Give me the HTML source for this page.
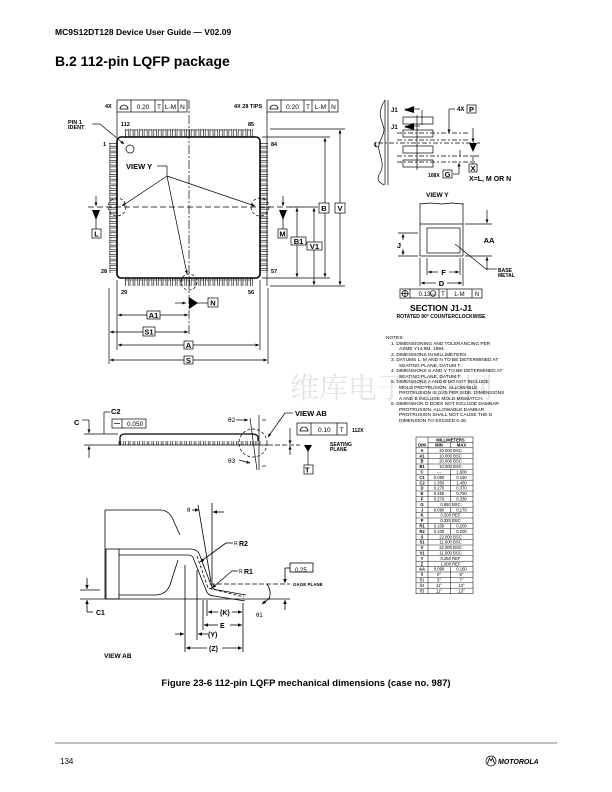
<!DOCTYPE html>
<html><head><meta charset="utf-8"><style>
html,body{margin:0;padding:0;background:#fff}
svg{display:block}
text{font-family:"Liberation Sans",Arial,sans-serif;fill:#000}
.b{font-weight:bold}
</style></head><body>
<svg width="612" height="792" viewBox="0 0 612 792" xmlns="http://www.w3.org/2000/svg">
<defs>
<marker id="a" markerWidth="6" markerHeight="6" refX="5" refY="3" orient="auto"><path d="M0,0.8 L5,3 L0,5.2z" fill="#000"/></marker>
<pattern id="tp" x="125" y="0" width="4.7" height="10" patternUnits="userSpaceOnUse"><rect x="0.4" y="0" width="3" height="10" fill="#fff" stroke="#000" stroke-width="0.6"/></pattern>
<pattern id="lp" x="0" y="143" width="10" height="4.7" patternUnits="userSpaceOnUse"><rect x="0" y="0.4" width="10" height="3" fill="#fff" stroke="#000" stroke-width="0.6"/></pattern>
</defs>
<text x="55" y="35" class="b" font-size="8.5">MC9S12DT128 Device User Guide — V02.09</text>
<text x="55" y="66" class="b" font-size="14">B.2  112-pin LQFP package</text>

<text x="290" y="398" font-size="29" style="fill:#e4e4e4;font-family:'Noto Serif CJK SC',serif">维库电子市场网</text>

<g stroke="#000" fill="none" stroke-width="0.7">
<rect x="125" y="129" width="128" height="8" fill="url(#tp)" stroke="none"/>
<rect x="125" y="278" width="128" height="8" fill="url(#tp)" stroke="none"/>
<rect x="109" y="143" width="8" height="130" fill="url(#lp)" stroke="none"/>
<rect x="260" y="143" width="8" height="130" fill="url(#lp)" stroke="none"/>
<rect x="117" y="137" width="143" height="141" rx="4" stroke-width="1.6" fill="#fff"/>
<circle cx="130" cy="149" r="4"/>
<line x1="189" y1="100" x2="189" y2="336" stroke-dasharray="9,2,2,2"/>
<line x1="88" y1="207" x2="298" y2="207" stroke-dasharray="6,3"/>
<rect x="117" y="100" width="70" height="12"/><line x1="131" y1="100" x2="131" y2="112"/><line x1="155" y1="100" x2="155" y2="112"/><line x1="163" y1="100" x2="163" y2="112"/><line x1="178" y1="100" x2="178" y2="112"/>
<rect x="267" y="100" width="71" height="12"/><line x1="281" y1="100" x2="281" y2="112"/><line x1="304" y1="100" x2="304" y2="112"/><line x1="312" y1="100" x2="312" y2="112"/><line x1="329" y1="100" x2="329" y2="112"/>
<line x1="117" y1="112" x2="117" y2="137"/><line x1="267" y1="112" x2="267" y2="286"/>
<line x1="92" y1="124" x2="100" y2="124"/><line x1="100" y1="124" x2="124" y2="144" marker-end="url(#a)"/>
<line x1="157" y1="166" x2="167" y2="166"/>
<line x1="167" y1="176" x2="122" y2="206" marker-end="url(#a)"/>
<line x1="167" y1="176" x2="255" y2="206" marker-end="url(#a)"/>
<line x1="167" y1="176" x2="187" y2="274" marker-end="url(#a)"/>
<line x1="167" y1="166" x2="167" y2="176"/>
<line x1="262" y1="137" x2="330" y2="137"/><line x1="262" y1="278" x2="330" y2="278"/>
<line x1="270" y1="129" x2="345" y2="129"/><line x1="270" y1="286" x2="345" y2="286"/>
<line x1="290" y1="207" x2="318" y2="207"/>
<line x1="325" y1="203" x2="325" y2="138" marker-end="url(#a)"/><line x1="325" y1="213" x2="325" y2="277" marker-end="url(#a)"/>
<line x1="340" y1="203" x2="340" y2="130" marker-end="url(#a)"/><line x1="340" y1="213" x2="340" y2="285" marker-end="url(#a)"/>
<line x1="297" y1="237" x2="297" y2="208" marker-end="url(#a)"/><line x1="297" y1="245" x2="297" y2="277" marker-end="url(#a)"/>
<line x1="314" y1="242" x2="314" y2="208" marker-end="url(#a)"/><line x1="314" y1="250" x2="314" y2="285" marker-end="url(#a)"/>
<rect x="319" y="203" width="10" height="10" fill="#fff"/><rect x="335" y="203" width="10" height="10" fill="#fff"/>
<rect x="291" y="237" width="15" height="8" fill="#fff"/><rect x="307" y="242" width="15" height="8" fill="#fff"/>
<line x1="96" y1="196" x2="96" y2="206" marker-end="url(#a)"/><line x1="96" y1="210" x2="96" y2="229"/>
<line x1="283" y1="196" x2="283" y2="206" marker-end="url(#a)"/><line x1="283" y1="210" x2="283" y2="229"/>
<rect x="92" y="229" width="9" height="9"/><rect x="278" y="229" width="9" height="9"/>
<line x1="175" y1="303" x2="186" y2="303" marker-end="url(#a)"/><line x1="196" y1="303" x2="208" y2="303"/>
<rect x="208" y="298" width="10" height="9"/>
<line x1="117" y1="280" x2="117" y2="350"/><line x1="260" y1="280" x2="260" y2="350"/>
<line x1="109" y1="288" x2="109" y2="364"/><line x1="268" y1="288" x2="268" y2="364"/>
<line x1="147" y1="315" x2="118" y2="315" marker-end="url(#a)"/><line x1="160" y1="315" x2="188" y2="315" marker-end="url(#a)"/>
<line x1="143" y1="332" x2="110" y2="332" marker-end="url(#a)"/><line x1="155" y1="332" x2="188" y2="332" marker-end="url(#a)"/>
<line x1="184" y1="345" x2="118" y2="345" marker-end="url(#a)"/><line x1="193" y1="345" x2="259" y2="345" marker-end="url(#a)"/>
<line x1="184" y1="360" x2="110" y2="360" marker-end="url(#a)"/><line x1="193" y1="360" x2="267" y2="360" marker-end="url(#a)"/>
<rect x="147" y="311" width="13" height="8"/><rect x="143" y="327" width="12" height="9"/><rect x="184" y="341" width="9" height="8"/><rect x="184" y="356" width="9" height="8"/>
<circle cx="117" cy="207" r="9" stroke-dasharray="3,2"/><circle cx="260" cy="207" r="9" stroke-dasharray="3,2"/><circle cx="189" cy="282" r="8" stroke-dasharray="3,2"/>
</g>
<polygon points="92,210 100,210 96,220" fill="#000"/><polygon points="279,210 287,210 283,220" fill="#000"/>
<polygon points="189,297 189,309 198,303" fill="#000"/>
<g font-size="5.5" class="b">
<text x="105" y="108">4X</text><text x="234" y="108">4X 28 TIPS</text>
<text x="68" y="124">PIN 1</text><text x="68" y="129">IDENT</text>
<text x="121" y="126">112</text><text x="248" y="126">85</text><text x="103" y="146">1</text><text x="271" y="146">84</text>
<text x="101" y="273">28</text><text x="271" y="273">57</text><text x="121" y="294">29</text><text x="248" y="294">56</text>
</g>
<g font-size="7.5" class="b"><text x="126" y="169">VIEW Y</text></g>
<g font-size="6.5" text-anchor="middle">
<text x="143" y="109">0.20</text><text x="159" y="109">T</text><text x="170.5" y="109">L-M</text><text x="182.5" y="109">N</text>
<text x="292.5" y="109">0.20</text><text x="308" y="109">T</text><text x="320.5" y="109">L-M</text><text x="333.5" y="109">N</text>
</g>
<path d="M120,109 a4,4 0 0 1 8,0z M270,109 a4,4 0 0 1 8,0z" fill="none" stroke="#000" stroke-width="0.8"/>
<g font-size="7.5" class="b" text-anchor="middle">
<text x="96.5" y="236.5">L</text><text x="282.5" y="236.5">M</text><text x="213" y="305.5">N</text>
<text x="324" y="211">B</text><text x="340" y="211">V</text><text x="298.5" y="244">B1</text><text x="314.5" y="249">V1</text>
<text x="153.5" y="318">A1</text><text x="149" y="334.5">S1</text><text x="188.5" y="348">A</text><text x="188.5" y="363">S</text>
</g>

<g stroke="#000" fill="none" stroke-width="0.7">
<path d="M385,100 c-6,10 -6,15 -2,25 c4,10 -6,15 -4,25 c2,10 6,15 0,25 c-3,6 2,8 5,10"/>
<line x1="385" y1="100" x2="385" y2="185"/><line x1="388" y1="100" x2="388" y2="185"/>
<rect x="403" y="117" width="30" height="7"/><rect x="403" y="130" width="30" height="7"/><rect x="403" y="146" width="30" height="7"/><rect x="403" y="160" width="30" height="7"/>
<line x1="417" y1="115" x2="417" y2="170"/><line x1="422" y1="110" x2="422" y2="125"/>
<line x1="397" y1="133" x2="470" y2="133" stroke-dasharray="5,2,2,2"/>
<line x1="397" y1="140" x2="470" y2="140" stroke-dasharray="5,2,2,2"/>
<line x1="378" y1="143" x2="480" y2="143" stroke-dasharray="5,2,2,2"/>
<line x1="397" y1="156" x2="480" y2="156" stroke-dasharray="5,2,2,2"/>
<line x1="397" y1="162" x2="475" y2="162" stroke-dasharray="5,2,2,2"/>
<line x1="455" y1="109" x2="449" y2="109"/><line x1="449" y1="109" x2="449" y2="133" marker-end="url(#a)"/>
<line x1="460" y1="150" x2="460" y2="157" />
<line x1="473" y1="128" x2="473" y2="142" marker-end="url(#a)"/>
<line x1="473" y1="155" x2="473" y2="164"/>
<line x1="453" y1="174" x2="459" y2="174"/><line x1="459" y1="174" x2="459" y2="163" marker-end="url(#a)"/>
<rect x="467" y="105" width="9" height="8"/><rect x="469" y="164" width="8" height="8"/><rect x="443" y="170" width="9" height="8"/>
<line x1="405" y1="109" x2="420" y2="109"/><line x1="405" y1="126" x2="420" y2="126"/>
<line x1="420" y1="203" x2="420" y2="256"/><line x1="463" y1="203" x2="463" y2="256"/>
<line x1="420" y1="256" x2="463" y2="256"/><line x1="420" y1="224" x2="463" y2="224"/>
<path d="M420,204 l10,-1 l12,1 l10,-1 l11,1"/>
<rect x="427" y="228" width="33" height="25"/>
<line x1="398" y1="233" x2="418" y2="233"/><line x1="398" y1="256" x2="418" y2="256"/>
<line x1="403" y1="240" x2="403" y2="234" marker-end="url(#a)"/><line x1="403" y1="249" x2="403" y2="255" marker-end="url(#a)"/>
<line x1="465" y1="224" x2="492" y2="224"/><line x1="465" y1="256" x2="492" y2="256"/>
<line x1="487" y1="210" x2="487" y2="223" marker-end="url(#a)"/><line x1="487" y1="270" x2="487" y2="257" marker-end="url(#a)"/>
<line x1="427" y1="258" x2="427" y2="275"/><line x1="460" y1="258" x2="460" y2="275"/>
<line x1="438" y1="272" x2="428" y2="272" marker-end="url(#a)"/><line x1="449" y1="272" x2="459" y2="272" marker-end="url(#a)"/>
<line x1="420" y1="258" x2="420" y2="286"/><line x1="463" y1="258" x2="463" y2="286"/>
<line x1="436" y1="283" x2="421" y2="283" marker-end="url(#a)"/><line x1="447" y1="283" x2="462" y2="283" marker-end="url(#a)"/>
<line x1="455" y1="244" x2="486" y2="269"/><line x1="486" y1="269" x2="497" y2="269"/>
<rect x="400" y="289" width="82" height="9"/>
<line x1="410" y1="289" x2="410" y2="298"/><line x1="439" y1="289" x2="439" y2="298"/><line x1="447" y1="289" x2="447" y2="298"/><line x1="472" y1="289" x2="472" y2="298"/>
<circle cx="405" cy="293.5" r="3"/><line x1="401" y1="293.5" x2="409" y2="293.5"/><line x1="405" y1="290" x2="405" y2="297"/>
<circle cx="433" cy="293.5" r="2.8"/>
</g>
<polygon points="404,110 414,106 414,113" fill="#000"/><polygon points="404,127 414,123 414,130" fill="#000"/>
<polygon points="469,143 477,143 473,152" fill="#000"/>
<g font-size="6" class="b">
<text x="391" y="112">J1</text><text x="391" y="129">J1</text><text x="457" y="111">4X</text>
<text x="428" y="177" font-size="5">108X</text>
<text x="469" y="181" font-size="7">X=L, M OR N</text>
<text x="426" y="197" font-size="6.5">VIEW Y</text>
<text x="498" y="272" font-size="5">BASE</text><text x="498" y="277" font-size="5">METAL</text>
</g>
<g font-size="7.5" class="b" text-anchor="middle">
<text x="471.5" y="112">P</text><text x="473" y="171">X</text><text x="447.5" y="177">G</text>
<text x="399" y="248">J</text><text x="489" y="243">AA</text><text x="443.5" y="275">F</text><text x="441.5" y="286">D</text>
<text x="441" y="311" font-size="8.5">SECTION J1-J1</text>
<text x="441" y="318" font-size="5">ROTATED 90° COUNTERCLOCKWISE</text>
</g>
<text x="374" y="147" font-size="7">℄</text>
<g font-size="6" text-anchor="middle"><text x="424.5" y="296">0.13</text><text x="433" y="296" font-size="4">M</text><text x="443" y="296">T</text><text x="459.5" y="296">L-M</text><text x="477" y="296">N</text></g>

<g font-size="4.8" fill="#333">
<text x="386" y="339">NOTES:</text>
<text x="391" y="345">1.  DIMENSIONING AND TOLERANCING PER</text>
<text x="399" y="350">ASME Y14.5M, 1994.</text>
<text x="391" y="356">2.  DIMENSIONS IN MILLIMETERS.</text>
<text x="391" y="361">3.  DATUMS L, M AND N TO BE DETERMINED AT</text>
<text x="399" y="367">SEATING PLANE, DATUM T.</text>
<text x="391" y="372">4.  DIMENSIONS S AND V TO BE DETERMINED AT</text>
<text x="399" y="378">SEATING PLANE, DATUM T.</text>
<text x="391" y="383">5.  DIMENSIONS A AND B DO NOT INCLUDE</text>
<text x="399" y="389">MOLD PROTRUSION. ALLOWABLE</text>
<text x="399" y="394">PROTRUSION IS 0.25 PER SIDE. DIMENSIONS</text>
<text x="399" y="400">A AND B INCLUDE MOLD MISMATCH.</text>
<text x="391" y="405">6.  DIMENSION D DOES NOT INCLUDE DAMBAR</text>
<text x="399" y="411">PROTRUSION. ALLOWABLE DAMBAR</text>
<text x="399" y="416">PROTRUSION SHALL NOT CAUSE THE D</text>
<text x="399" y="422">DIMENSION TO EXCEED 0.46.</text>
</g>

<!-- table -->
<g stroke="#000" stroke-width="0.5" fill="none">
<rect x="416" y="437" width="57" height="156.6"/>
<line x1="428" y1="437" x2="428" y2="593.6"/>
<line x1="428" y1="442.4" x2="473" y2="442.4"/>
<line x1="450.5" y1="442.4" x2="450.5" y2="447.8"/>
<line x1="450.5" y1="469.4" x2="450.5" y2="501.8"/>
<line x1="450.5" y1="507.2" x2="450.5" y2="512.6"/>
<line x1="450.5" y1="523.4" x2="450.5" y2="534.2"/>
<line x1="450.5" y1="566.6" x2="450.5" y2="593.6"/>
</g>
<g stroke="#000" stroke-width="0.45">
<line x1="416" y1="447.8" x2="473" y2="447.8"/><line x1="416" y1="453.2" x2="473" y2="453.2"/><line x1="416" y1="458.6" x2="473" y2="458.6"/><line x1="416" y1="464" x2="473" y2="464"/><line x1="416" y1="469.4" x2="473" y2="469.4"/><line x1="416" y1="474.8" x2="473" y2="474.8"/><line x1="416" y1="480.2" x2="473" y2="480.2"/><line x1="416" y1="485.6" x2="473" y2="485.6"/><line x1="416" y1="491" x2="473" y2="491"/><line x1="416" y1="496.4" x2="473" y2="496.4"/><line x1="416" y1="501.8" x2="473" y2="501.8"/><line x1="416" y1="507.2" x2="473" y2="507.2"/><line x1="416" y1="512.6" x2="473" y2="512.6"/><line x1="416" y1="518" x2="473" y2="518"/><line x1="416" y1="523.4" x2="473" y2="523.4"/><line x1="416" y1="528.8" x2="473" y2="528.8"/><line x1="416" y1="534.2" x2="473" y2="534.2"/><line x1="416" y1="539.6" x2="473" y2="539.6"/><line x1="416" y1="545" x2="473" y2="545"/><line x1="416" y1="550.4" x2="473" y2="550.4"/><line x1="416" y1="555.8" x2="473" y2="555.8"/><line x1="416" y1="561.2" x2="473" y2="561.2"/><line x1="416" y1="566.6" x2="473" y2="566.6"/><line x1="416" y1="572" x2="473" y2="572"/><line x1="416" y1="577.4" x2="473" y2="577.4"/><line x1="416" y1="582.8" x2="473" y2="582.8"/><line x1="416" y1="588.2" x2="473" y2="588.2"/>
</g>
<g font-size="4.2" text-anchor="middle" font-weight="bold">
<text x="450.5" y="441.3">MILLIMETERS</text>
<text x="422" y="446.7">DIM</text><text x="439" y="446.7">MIN</text><text x="461.5" y="446.7">MAX</text>
<text x="422" y="451.9">A</text><text x="422" y="457.3">A1</text><text x="422" y="462.7">B</text><text x="422" y="468.1">B1</text><text x="422" y="473.5">C</text><text x="422" y="478.9">C1</text><text x="422" y="484.3">C2</text><text x="422" y="489.7">D</text><text x="422" y="495.1">E</text><text x="422" y="500.5">F</text><text x="422" y="505.9">G</text><text x="422" y="511.3">J</text><text x="422" y="516.7">K</text><text x="422" y="522.1">P</text><text x="422" y="527.5">R1</text><text x="422" y="532.9">R2</text><text x="422" y="538.3">S</text><text x="422" y="543.7">S1</text><text x="422" y="549.1">V</text><text x="422" y="554.5">V1</text><text x="422" y="559.9">Y</text><text x="422" y="565.3">Z</text><text x="422" y="570.7">AA</text>
</g>
<g font-size="4.2" text-anchor="middle">
<text x="422" y="576.1">θ</text><text x="422" y="581.5">θ1</text><text x="422" y="586.9">θ2</text><text x="422" y="592.3">θ3</text>
<text x="450.5" y="451.9">20.000 BSC</text><text x="450.5" y="457.3">10.000 BSC</text><text x="450.5" y="462.7">20.000 BSC</text><text x="450.5" y="468.1">10.000 BSC</text>
<text x="439" y="473.5">---</text><text x="461.5" y="473.5">1.600</text>
<text x="439" y="478.9">0.050</text><text x="461.5" y="478.9">0.150</text>
<text x="439" y="484.3">1.350</text><text x="461.5" y="484.3">1.450</text>
<text x="439" y="489.7">0.270</text><text x="461.5" y="489.7">0.370</text>
<text x="439" y="495.1">0.450</text><text x="461.5" y="495.1">0.750</text>
<text x="439" y="500.5">0.270</text><text x="461.5" y="500.5">0.330</text>
<text x="450.5" y="505.9">0.650 BSC</text>
<text x="439" y="511.3">0.090</text><text x="461.5" y="511.3">0.170</text>
<text x="450.5" y="516.7">0.500 REF</text><text x="450.5" y="522.1">0.325 BSC</text>
<text x="439" y="527.5">0.100</text><text x="461.5" y="527.5">0.200</text>
<text x="439" y="532.9">0.100</text><text x="461.5" y="532.9">0.200</text>
<text x="450.5" y="538.3">22.000 BSC</text><text x="450.5" y="543.7">11.000 BSC</text><text x="450.5" y="549.1">22.000 BSC</text><text x="450.5" y="554.5">11.000 BSC</text>
<text x="450.5" y="559.9">0.250 REF</text><text x="450.5" y="565.3">1.000 REF</text>
<text x="439" y="570.7">0.090</text><text x="461.5" y="570.7">0.160</text>
<text x="439" y="576.1">0°</text><text x="461.5" y="576.1">8°</text>
<text x="439" y="581.5">3°</text><text x="461.5" y="581.5">7°</text>
<text x="439" y="586.9">11°</text><text x="461.5" y="586.9">13°</text>
<text x="439" y="592.3">11°</text><text x="461.5" y="592.3">13°</text>
</g>

<g stroke="#000" fill="none" stroke-width="0.7">
<path d="M120,445 L120,437 Q121,434 125,434 L252,434 Q257,434 258,437 L258,445" stroke-width="1.2"/>
<rect x="117" y="441" width="144" height="4" fill="url(#tp)" stroke="none"/>
<line x1="84" y1="445" x2="268" y2="445"/><line x1="268" y1="445" x2="300" y2="445" stroke-dasharray="5,2"/>
<line x1="84" y1="434" x2="118" y2="434"/>
<line x1="89" y1="420" x2="89" y2="433" marker-end="url(#a)"/><line x1="89" y1="458" x2="89" y2="446" marker-end="url(#a)"/>
<line x1="82" y1="420" x2="89" y2="420"/>
<line x1="104" y1="434" x2="104" y2="412"/><line x1="104" y1="412" x2="110" y2="412"/>
<rect x="112" y="419" width="34" height="9"/><line x1="122" y1="419" x2="122" y2="428"/><line x1="114" y1="423.5" x2="120" y2="423.5"/>
<circle cx="253" cy="443" r="14" stroke-dasharray="3,2"/>
<line x1="250" y1="418" x2="257" y2="470"/><line x1="259" y1="415" x2="259" y2="470"/>
<line x1="236" y1="420" x2="248" y2="420" marker-end="url(#a)"/><line x1="239" y1="460" x2="250" y2="463" marker-end="url(#a)"/>
<line x1="262" y1="420" x2="266" y2="420"/><line x1="262" y1="466" x2="266" y2="466"/>
<line x1="293" y1="413" x2="285" y2="413"/><line x1="285" y1="413" x2="268" y2="437" marker-end="url(#a)"/>
<rect x="297" y="423" width="50" height="12"/><line x1="311" y1="423" x2="311" y2="435"/><line x1="337" y1="423" x2="337" y2="435"/>
<line x1="290" y1="428" x2="290" y2="444" marker-end="url(#a)"/><line x1="290" y1="455" x2="290" y2="446" marker-end="url(#a)"/>
<line x1="308" y1="450" x2="308" y2="465"/><rect x="304" y="465" width="9" height="9"/>
</g>
<polygon points="304,445 312,445 308,452" fill="#000"/>
<path d="M300,431 a4,4 0 0 1 8,0z" fill="none" stroke="#000" stroke-width="0.8"/>
<g font-size="7.5" class="b"><text x="74" y="425">C</text><text x="111" y="414">C2</text><text x="295" y="416">VIEW AB</text><text x="305" y="472.5" text-anchor="start">T</text></g>
<g font-size="6.5"><text x="127" y="426">0.050</text><text x="318" y="432">0.10</text><text x="339.5" y="432">T</text></g>
<g font-size="5" class="b"><text x="352" y="432">112X</text><text x="330" y="446">SEATING</text><text x="330" y="451">PLANE</text></g>
<g font-size="6.5"><text x="228" y="422">θ2</text><text x="228" y="463">θ3</text></g>

<g stroke="#000" fill="none" stroke-width="0.8">
<path d="M105,510 L160,510 Q170,510 174,522 L180,535"/>
<path d="M178,560 L170,585 Q166,595 155,595 L119,595"/>
<line x1="105" y1="510" x2="105" y2="599"/>
<rect x="106" y="549" width="13" height="50"/>
<path d="M119,549 L190,549 Q198,549 200,556 L211,585 Q213,590 218,590 L246,595"/>
<path d="M119,555 L188,555 Q193,555 194,560 L206,590 Q208,596 214,596 L245,601"/>
<path d="M197,556 L208,588 L244,597" stroke-dasharray="3,2"/>
<line x1="80" y1="599" x2="290" y2="599"/>
<line x1="80" y1="590" x2="100" y2="590"/>
<line x1="210" y1="584" x2="290" y2="584" stroke-dasharray="5,2"/>
<line x1="87" y1="578" x2="87" y2="589" marker-end="url(#a)"/><line x1="87" y1="612" x2="87" y2="600" marker-end="url(#a)"/>
<line x1="87" y1="612" x2="93" y2="612"/>
<line x1="212" y1="503" x2="212" y2="590"/><line x1="198" y1="505" x2="211" y2="582"/>
<line x1="192" y1="510" x2="199" y2="510" marker-end="url(#a)"/><line x1="224" y1="512" x2="213" y2="512" marker-end="url(#a)"/>
<line x1="233" y1="543" x2="226" y2="543"/><line x1="226" y1="543" x2="200" y2="562" marker-end="url(#a)"/>
<line x1="238" y1="571" x2="232" y2="571"/><line x1="232" y1="571" x2="212" y2="588" marker-end="url(#a)"/>
<rect x="290" y="563" width="23" height="9"/>
<line x1="285" y1="568" x2="290" y2="568"/><line x1="285" y1="568" x2="285" y2="583" marker-end="url(#a)"/><line x1="285" y1="610" x2="285" y2="600" marker-end="url(#a)"/>
<path d="M267,584 Q272,592 269,598" /><line x1="270" y1="598" x2="262" y2="604" marker-end="url(#a)"/>
<line x1="207" y1="600" x2="207" y2="616"/><line x1="243" y1="603" x2="243" y2="652"/>
<line x1="203" y1="600" x2="203" y2="630"/>
<line x1="185" y1="565" x2="185" y2="652"/><line x1="197" y1="570" x2="197" y2="640"/>
<line x1="218" y1="612" x2="208" y2="612" marker-end="url(#a)"/><line x1="232" y1="612" x2="242" y2="612" marker-end="url(#a)"/>
<line x1="218" y1="625" x2="204" y2="625" marker-end="url(#a)"/><line x1="230" y1="625" x2="242" y2="625" marker-end="url(#a)"/>
<line x1="175" y1="634" x2="184" y2="634" marker-end="url(#a)"/><line x1="208" y1="634" x2="198" y2="634" marker-end="url(#a)"/>
<line x1="207" y1="648" x2="186" y2="648" marker-end="url(#a)"/><line x1="222" y1="648" x2="242" y2="648" marker-end="url(#a)"/>
</g>
<g font-size="7" class="b">
<text x="96" y="615">C1</text><text x="220" y="615">(K)</text><text x="220" y="628">E</text><text x="208" y="637">(Y)</text><text x="209" y="651">(Z)</text>
<text x="239" y="546">R2</text><text x="244" y="574">R1</text>
<text x="104" y="658" font-size="6.5">VIEW AB</text>
</g>
<g font-size="5"><text x="234" y="545">R</text><text x="239" y="573">R</text><text x="187" y="512" font-size="6">θ</text><text x="256" y="617" font-size="6">θ1</text><text x="295" y="572" font-size="6">0.25</text><text x="293" y="586" class="b" font-size="4.5">GAGE PLANE</text></g>

<text x="306" y="686" class="b" font-size="9.5" text-anchor="middle">Figure 23-6  112-pin LQFP mechanical dimensions (case no. 987)</text>
<line x1="55" y1="743" x2="557" y2="743" stroke="#000" stroke-width="0.6"/>
<text x="60" y="764" font-size="8">134</text>
<circle cx="491" cy="761" r="5" fill="none" stroke="#000" stroke-width="0.7"/>
<path d="M487.5,763.5 L489.5,758 L491,761 L492.5,758 L494.5,763.5" fill="none" stroke="#000" stroke-width="0.8"/>
<text x="498" y="764" font-size="7" class="b" font-style="italic">MOTOROLA</text>
</svg>
</body></html>
